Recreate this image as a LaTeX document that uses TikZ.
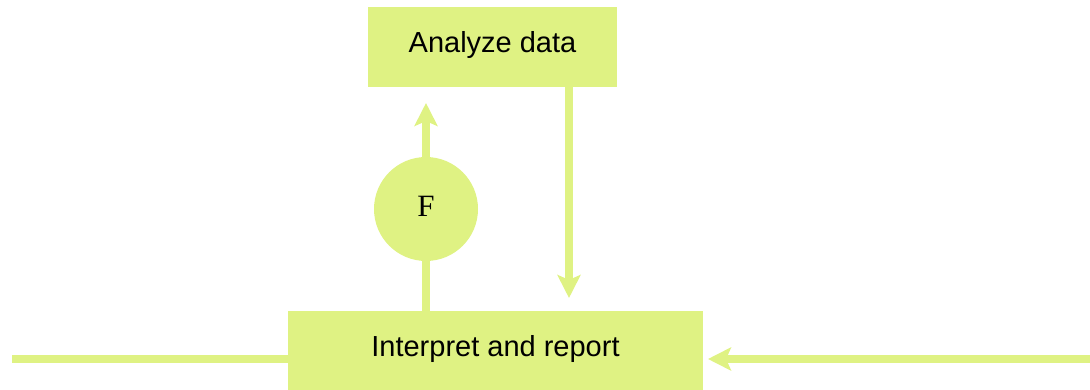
\documentclass[tikz,border=0pt]{standalone}
\usepackage{fontspec}
\setmainfont{Liberation Sans}
\newfontfamily\serifF{Liberation Serif}
\usetikzlibrary{arrows.meta}
\definecolor{lime}{RGB}{223,242,131}
\tikzset{
  procbox/.style={fill=lime, draw=none, inner sep=0pt, text height=21pt, text depth=10pt,
    font=\fontsize{29}{34}\selectfont},
  joint/.style={circle, fill=lime, draw=none, inner sep=0pt, minimum size=104pt,
    text height=20.5pt, text depth=6pt, font=\serifF\fontsize{31}{36}\selectfont},
  flow/.style={draw=lime, line width=8pt},
  flowarrow/.style={flow, -{Stealth[length=23pt, width=23pt, inset=5pt]}}
}
\begin{document}
\begin{tikzpicture}[x=1pt, y=-1pt]
  \useasboundingbox (0,0) rectangle (1090,390);
  % process boxes and the junction circle
  \node[procbox, minimum width=249pt, minimum height=80pt] (analyze) at (492.5,47) {Analyze data};
  \node[procbox, minimum width=415pt, minimum height=79pt] (report) at (495.5,350.5) {Interpret and report};
  \node[joint] (f) at (426,209) {F};
  % free ends of the connectors
  \coordinate (uptip) at (426,103);
  \coordinate (downtip) at (569,298);
  \coordinate (leftend) at (12,359);
  \coordinate (rightend) at (1090,359);
  \coordinate (righttip) at (708,359);
  % connectors
  \draw[flow] (report.north -| f) -- (f.south);
  \draw[flowarrow] (f.north) -- (uptip);
  \draw[flowarrow] (analyze.south -| downtip) -- (downtip);
  \draw[flow] (leftend) -- (report.west |- leftend);
  \draw[flowarrow] (rightend) -- (righttip);
\end{tikzpicture}
\end{document}
